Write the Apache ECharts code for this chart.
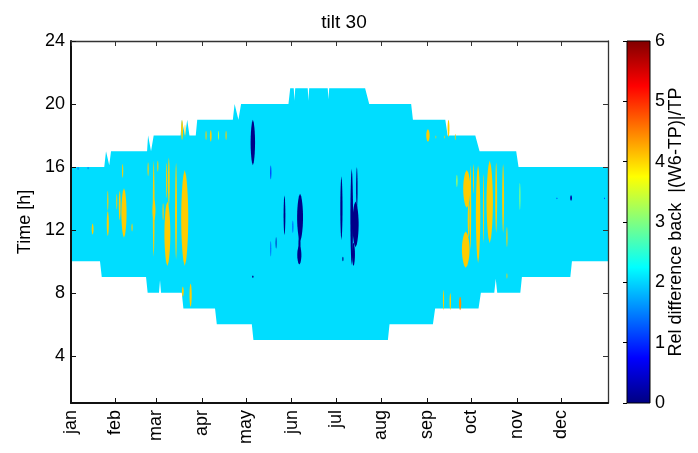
<!DOCTYPE html>
<html>
<head>
<meta charset="utf-8">
<script src="https://cdn.jsdelivr.net/npm/echarts@6/dist/echarts.min.js"></script>
<style>
  html, body { margin: 0; padding: 0; background: #fff; }
  #chart { width: 698px; height: 453px; }
</style>
</head>
<body>
<div id="chart"></div>
<script>
// Axis ticks and labels
const monthStarts = [1, 31, 59, 90, 120, 151, 181, 212, 243, 273, 304, 334];
const monthNames = ['jan', 'feb', 'mar', 'apr', 'may', 'jun', 'jul', 'aug', 'sep', 'oct', 'nov', 'dec'];
const hourTicks = [4, 8, 12, 16, 20, 24];

// Daylight window: [fromDay, toDay, hour]
const sunriseSteps = [
  [1, 20.7, 10], [21.9, 52, 9], [53.1, 60.8, 8], [61.5, 61.5, 8.8], [62.2, 76.3, 8],
  [77.4, 98.9, 7], [100.1, 123.9, 6], [125, 216.4, 5], [217.5, 247, 6], [248.5, 278, 7],
  [279.6, 288.7, 8], [289.7, 289.7, 8.9], [290.7, 306.4, 8], [307.5, 340.4, 9], [341.5, 366, 10]
];
const sunsetSteps = [
  [1, 23.6, 16], [24.8, 24.8, 17], [27, 27, 16.1], [28.2, 52.7, 17], [53.4, 53.4, 18],
  [55.4, 55.4, 17], [57.2, 75.5, 18], [76.3, 76.3, 19], [78.5, 78.5, 18], [80, 80, 19],
  [81.5, 85.8, 18], [86.8, 111, 19], [112.2, 112.2, 20], [114.8, 114.8, 19], [116.6, 148.8, 20],
  [150, 152.4, 21], [152.9, 152.9, 20.2], [153.4, 161.9, 21], [162.4, 162.4, 20.2], [162.9, 175.5, 21],
  [176, 176, 20.3], [176.5, 200.9, 21], [203.7, 232.2, 20], [233.4, 255.4, 19], [257, 275.8, 18],
  [278.7, 303.6, 17], [305.2, 366, 16]
];

// Prevailing relative difference over the daylight window
const baseValue = 2.05;

// Local deviations: [value, day, hourLow, hourHigh, widthDays]
const highPatches = [
  [4.05, 15.7, 11.7, 12.4, 1.2], [4.05, 26, 11.6, 13.2, 1.4], [4.05, 26, 13.2, 14.5, 0.8],
  [4.05, 32.1, 13.3, 14.3, 0.7], [4.05, 34.1, 12.6, 14.5, 1.2], [4.05, 37, 11.5, 14.65, 3.5],
  [4.05, 36.1, 15.3, 16.2, 0.8], [4.05, 42.5, 11.9, 12.4, 0.8], [4.05, 53.4, 15.4, 16.3, 0.8],
  [4.05, 57.2, 10.3, 16.4, 1.2], [4.05, 57.4, 12.6, 13.9, 2], [4.05, 60, 15.7, 16.4, 0.8],
  [4.05, 63.6, 12.6, 13.7, 0.8], [4.05, 66.5, 9.7, 13.8, 4], [4.05, 67.5, 13.5, 16.6, 1.2],
  [4.05, 66, 14, 16.3, 0.8], [4.05, 72.4, 10.1, 16.3, 1.3], [4.05, 78.3, 9.7, 15.8, 4.8],
  [4.05, 76.5, 17.7, 19, 1.3], [4.05, 78.5, 17.9, 18.7, 0.6], [4.05, 77, 7.75, 8.4, 1.2],
  [4.05, 82.3, 7.1, 8.6, 1.5],
  [4.05, 92.8, 17.7, 18.3, 0.8], [4.05, 96, 17.6, 18.35, 1.2], [3.5, 101.2, 17.7, 18.3, 0.6],
  [4.05, 106.4, 17.7, 18.3, 0.8],
  [4.05, 243.6, 17.6, 18.4, 2.3], [4.05, 249, 17.8, 18, 0.5], [4.05, 255, 17.8, 18, 0.5],
  [4.05, 257.6, 17.9, 19, 1.3], [4.05, 262.2, 17.7, 18.1, 0.6], [3.4, 263.3, 14.7, 15.5, 0.8],
  [4.05, 270, 13.4, 15.8, 4.8], [4.05, 269.3, 9.6, 11.9, 5.2], [4.05, 271.3, 11.5, 13.8, 1.3],
  [4.05, 272.5, 10.7, 16.1, 1.0], [4.05, 274.6, 14.3, 16.2, 0.7], [4.05, 277.7, 9.9, 16.1, 3],
  [4.05, 281.4, 11.15, 15.6, 0.8], [4.05, 285.6, 11.15, 16.4, 4.3], [4.05, 290, 11.8, 16.3, 1.3],
  [4.05, 294.7, 11.8, 16.2, 1.3], [4.05, 297.3, 10.9, 12.2, 0.8], [4.05, 297.3, 8.9, 9.25, 0.6],
  [3.0, 306.1, 13.25, 15, 0.9],
  [4.05, 254.2, 6.9, 8.2, 0.8], [4.05, 258.8, 6.9, 8.0, 1.0], [4.4, 265.5, 6.9, 7.75, 1.5]
];
const lowPatches = [
  [0.05, 124.6, 16.1, 19, 3], [1.0, 136.8, 15.2, 16.1, 0.8], [0.05, 146.1, 11.66, 14.2, 1.2],
  [1.2, 151.8, 11.8, 12.6, 0.7], [0.05, 156.7, 11.3, 14.3, 4], [0.05, 156.3, 10.4, 11.8, 1.4],
  [0.05, 156.2, 9.8, 11.0, 2.8], [1.2, 136.8, 10.3, 11.3, 0.6], [0.3, 140.4, 10.8, 11.55, 0.6],
  [0.05, 124.6, 8.95, 9.1, 1.0],
  [0.05, 184.8, 11.35, 15.4, 1.5], [0.05, 185.8, 10, 10.3, 0.8], [0.05, 191.8, 9.75, 15.9, 1.8],
  [0.05, 195.3, 13.3, 16.0, 1.0], [0.05, 194.4, 10.9, 13.8, 4.2], [0.05, 193, 9.7, 11.2, 2],
  [0.2, 340.9, 13.85, 14.2, 1.2], [1.0, 331.3, 13.95, 14.05, 0.6], [1.0, 363.7, 13.95, 14.05, 0.6],
  [1.3, 5.8, 15.8, 16, 0.6], [1.3, 12.6, 15.85, 16, 0.6]
];

// Colour scale range and the jet colour ramp (evenly spaced anchors)
const scaleRange = [0, 6];
const jet = ['#000080', '#0000ff', '#0080ff', '#00ffff', '#80ff80', '#ffff00', '#ff8000', '#ff0000', '#800000'];

const FONT = 'Liberation Sans, Arial, Helvetica, sans-serif';

function stepPath(steps) {
  const pts = [];
  steps.forEach(function (s) {
    pts.push([s[0], s[2]]);
    if (s[1] !== s[0]) pts.push([s[1], s[2]]);
  });
  return pts;
}
const daylightOutline = stepPath(sunriseSteps).concat(stepPath(sunsetSteps).reverse());

function renderDaylight(params, api) {
  return {
    type: 'polygon',
    shape: { points: daylightOutline.map(function (p) { return api.coord(p); }) },
    style: { fill: api.visual('color') }
  };
}

// Each deviation is drawn as a vertical lens between its low and high hour
function renderPatch(params, api) {
  const day = api.value(1), lo = api.value(2), hi = api.value(3), w = api.value(4);
  const n = 16, right = [], left = [];
  for (let i = 0; i <= n; i++) {
    const t = i / n;
    const h = lo + (hi - lo) * t;
    const hw = (w / 2) * Math.pow(Math.sin(Math.PI * t), 0.55);
    right.push(api.coord([day + hw, h]));
    left.push(api.coord([day - hw, h]));
  }
  return {
    type: 'polygon',
    shape: { points: right.concat(left.reverse()) },
    style: { fill: api.visual('color') }
  };
}

function renderColorbar(params, api) {
  const top = api.coord([0, api.value(1)]);
  const bottom = api.coord([1, api.value(0)]);
  const stops = jet.map(function (c, i) { return { offset: 1 - i / (jet.length - 1), color: c }; }).reverse();
  return {
    type: 'rect',
    shape: { x: top[0], y: top[1], width: bottom[0] - top[0], height: bottom[1] - top[1] },
    style: {
      fill: new echarts.graphic.LinearGradient(0, 0, 0, 1, stops),
      stroke: '#000', lineWidth: 1
    }
  };
}

const labelStyle = { color: '#000', fontSize: 18, fontFamily: FONT };

const chart = echarts.init(document.getElementById('chart'), null, { renderer: 'canvas' });
chart.setOption({
  animation: false,
  backgroundColor: '#fff',
  title: {
    text: 'tilt 30',
    left: 339, top: 8, textAlign: 'center',
    textStyle: { color: '#000', fontSize: 19, fontWeight: 'normal', fontFamily: FONT }
  },
  grid: [
    { left: 71, top: 41, width: 537, height: 362 },
    { left: 627, top: 41, width: 23, height: 362 }
  ],
  visualMap: {
    type: 'continuous', show: false, min: scaleRange[0], max: scaleRange[1],
    dimension: 0, seriesIndex: [0, 1], inRange: { color: jet }
  },
  xAxis: [
    {
      type: 'value', gridIndex: 0, position: 'bottom', min: 1, max: 366, z: 5,
      axisLine: { show: true, lineStyle: { color: '#111', width: 2 } },
      axisTick: { show: true, inside: true, length: 5, customValues: monthStarts, lineStyle: { color: '#111' } },
      axisLabel: {
        show: true, customValues: monthStarts, rotate: 90, margin: 7,
        formatter: function (v) { return monthNames[monthStarts.indexOf(v)]; },
        color: '#000', fontSize: 18, fontFamily: FONT
      },
      splitLine: { show: false }
    },
    {
      type: 'value', gridIndex: 0, position: 'top', min: 1, max: 366, z: 5,
      axisLine: { show: true, lineStyle: { color: '#333', width: 1.3 } },
      axisTick: { show: true, inside: true, length: 5, customValues: monthStarts, lineStyle: { color: '#333' } },
      axisLabel: { show: false },
      splitLine: { show: false }
    },
    {
      type: 'value', gridIndex: 1, min: 0, max: 1, show: false
    }
  ],
  yAxis: [
    {
      type: 'value', gridIndex: 0, position: 'left', min: 1, max: 24, z: 5,
      name: 'Time [h]', nameLocation: 'middle', nameGap: 33, nameRotate: 90,
      nameTextStyle: labelStyle,
      axisLine: { show: true, lineStyle: { color: '#111', width: 2 } },
      axisTick: { show: true, inside: true, length: 5, customValues: hourTicks, lineStyle: { color: '#111' } },
      axisLabel: { show: true, customValues: hourTicks, margin: 6, color: '#000', fontSize: 18, fontFamily: FONT },
      splitLine: { show: false }
    },
    {
      type: 'value', gridIndex: 0, position: 'right', min: 1, max: 24, z: 5,
      axisLine: { show: true, lineStyle: { color: '#333', width: 1.3 } },
      axisTick: { show: true, inside: true, length: 5, customValues: hourTicks, lineStyle: { color: '#333' } },
      axisLabel: { show: false },
      splitLine: { show: false }
    },
    {
      type: 'value', gridIndex: 1, position: 'right', min: scaleRange[0], max: scaleRange[1], interval: 1, z: 5,
      name: 'Rel difference back  |(W6-TP)|/TP', nameLocation: 'middle', nameGap: 17, nameRotate: 90,
      nameMoveOverlap: false,
      nameTextStyle: labelStyle,
      axisLine: { show: false },
      axisTick: { show: true, inside: true, length: 4, lineStyle: { color: '#000' } },
      axisLabel: { show: true, margin: 5, color: '#000', fontSize: 18, fontFamily: FONT },
      splitLine: { show: false }
    }
  ],
  series: [
    {
      type: 'custom', xAxisIndex: 0, yAxisIndex: 0, clip: true, silent: true,
      renderItem: renderDaylight,
      data: [[baseValue]]
    },
    {
      type: 'custom', xAxisIndex: 0, yAxisIndex: 0, clip: true, silent: true,
      renderItem: renderPatch,
      encode: { x: 1, y: 2 },
      data: highPatches.concat(lowPatches)
    },
    {
      type: 'custom', xAxisIndex: 2, yAxisIndex: 2, silent: true,
      renderItem: renderColorbar,
      data: [scaleRange]
    }
  ]
});
</script>
</body>
</html>
